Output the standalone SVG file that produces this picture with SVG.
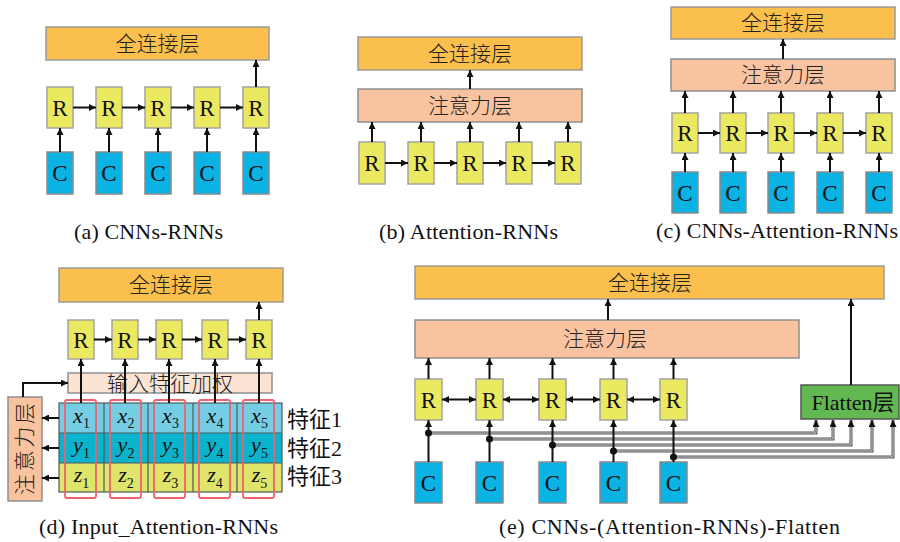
<svg xmlns="http://www.w3.org/2000/svg" width="900" height="542" viewBox="0 0 900 542">
<defs>
<marker id="ah" viewBox="0 0 10 10" refX="10" refY="5" markerWidth="7" markerHeight="7" markerUnits="userSpaceOnUse" orient="auto-start-reverse"><path d="M0,0 L10,5 L0,10 z" fill="#111"/></marker>
<style>
.fc{fill:#FBBF4E;stroke:#9b9b9b;stroke-width:1.5}
.att{fill:#F9C3A0;stroke:#8f8f8f;stroke-width:1.5}
.r{fill:#EAE95F;stroke:#a3a3a3;stroke-width:1.5}
.c{fill:#0BB2E4;stroke:#8a8a8a;stroke-width:1.5}
.w{fill:#FCE3D3;stroke:#8f8f8f;stroke-width:1.5}
.fl{fill:#63B951;stroke:#555;stroke-width:1.5}
.cn{font-family:"Noto Sans CJK SC","Noto Sans CJK TC",sans-serif;font-size:21px;fill:#222;text-anchor:middle;font-weight:300}
.lt{font-family:"Liberation Serif",serif;font-size:23px;text-anchor:middle;fill:#111}
.mx{font-family:"Liberation Serif","Noto Sans CJK SC",serif;font-size:22px;fill:#111}
.cap{font-family:"Liberation Serif",serif;font-size:22px;text-anchor:middle;fill:#111}
.ar{stroke:#111;stroke-width:2;fill:none;marker-end:url(#ah)}
.bi{stroke:#111;stroke-width:2;fill:none;marker-end:url(#ah);marker-start:url(#ah)}
.wo{stroke:#555;stroke-width:3;fill:none;marker-end:url(#ah)}
.wi{stroke:#eee;stroke-width:0.8;fill:none}
.row1{fill:#75CDE3}.row2{fill:#0BB3CC}.row3{fill:#DFE46B}
.red{fill:none;stroke:#F0606E;stroke-width:1.8}
.it{font-style:italic}
</style>
</defs>

<!-- ===== (a) CNNs-RNNs ===== -->
<g id="a-fc"><rect class="fc" x="46" y="27" width="223" height="33"/><text class="cn" x="157.5" y="51">全连接层</text></g>
<g id="a-r1"><rect class="r" x="47" y="87" width="26" height="41"/><text class="lt" x="60" y="115.5">R</text></g>
<g id="a-r2"><rect class="r" x="96" y="87" width="26" height="41"/><text class="lt" x="109" y="115.5">R</text></g>
<g id="a-r3"><rect class="r" x="145" y="87" width="26" height="41"/><text class="lt" x="158" y="115.5">R</text></g>
<g id="a-r4"><rect class="r" x="194" y="87" width="26" height="41"/><text class="lt" x="207" y="115.5">R</text></g>
<g id="a-r5"><rect class="r" x="243" y="87" width="26" height="41"/><text class="lt" x="256" y="115.5">R</text></g>
<g id="a-c1"><rect class="c" x="47" y="152" width="26" height="42"/><text class="lt" x="60" y="181">C</text></g>
<g id="a-c2"><rect class="c" x="96" y="152" width="26" height="42"/><text class="lt" x="109" y="181">C</text></g>
<g id="a-c3"><rect class="c" x="145" y="152" width="26" height="42"/><text class="lt" x="158" y="181">C</text></g>
<g id="a-c4"><rect class="c" x="194" y="152" width="26" height="42"/><text class="lt" x="207" y="181">C</text></g>
<g id="a-c5"><rect class="c" x="243" y="152" width="26" height="42"/><text class="lt" x="256" y="181">C</text></g>
<g id="a-edges">
<line class="ar" x1="73" y1="107.5" x2="96" y2="107.5"/>
<line class="ar" x1="122" y1="107.5" x2="145" y2="107.5"/>
<line class="ar" x1="171" y1="107.5" x2="194" y2="107.5"/>
<line class="ar" x1="220" y1="107.5" x2="243" y2="107.5"/>
<line class="ar" x1="60" y1="152" x2="60" y2="128"/>
<line class="ar" x1="109" y1="152" x2="109" y2="128"/>
<line class="ar" x1="158" y1="152" x2="158" y2="128"/>
<line class="ar" x1="207" y1="152" x2="207" y2="128"/>
<line class="ar" x1="256" y1="152" x2="256" y2="128"/>
<line class="ar" x1="256" y1="87" x2="256" y2="60"/>
</g>
<text class="cap" x="148.5" y="239" textLength="149" lengthAdjust="spacing">(a) CNNs-RNNs</text>

<!-- ===== (b) Attention-RNNs ===== -->
<g id="b-fc"><rect class="fc" x="358" y="37" width="224" height="33"/><text class="cn" x="470" y="61">全连接层</text></g>
<g id="b-att"><rect class="att" x="358" y="89" width="224" height="33"/><text class="cn" x="470" y="113">注意力层</text></g>
<g id="b-r1"><rect class="r" x="359" y="142" width="26" height="42"/><text class="lt" x="372" y="171">R</text></g>
<g id="b-r2"><rect class="r" x="408" y="142" width="26" height="42"/><text class="lt" x="421" y="171">R</text></g>
<g id="b-r3"><rect class="r" x="457" y="142" width="26" height="42"/><text class="lt" x="470" y="171">R</text></g>
<g id="b-r4"><rect class="r" x="506" y="142" width="26" height="42"/><text class="lt" x="519" y="171">R</text></g>
<g id="b-r5"><rect class="r" x="555" y="142" width="26" height="42"/><text class="lt" x="568" y="171">R</text></g>
<g id="b-edges">
<line class="ar" x1="385" y1="163" x2="408" y2="163"/>
<line class="ar" x1="434" y1="163" x2="457" y2="163"/>
<line class="ar" x1="483" y1="163" x2="506" y2="163"/>
<line class="ar" x1="532" y1="163" x2="555" y2="163"/>
<line class="ar" x1="372" y1="142" x2="372" y2="122"/>
<line class="ar" x1="421" y1="142" x2="421" y2="122"/>
<line class="ar" x1="470" y1="142" x2="470" y2="122"/>
<line class="ar" x1="519" y1="142" x2="519" y2="122"/>
<line class="ar" x1="568" y1="142" x2="568" y2="122"/>
<line class="ar" x1="470" y1="89" x2="470" y2="70"/>
</g>
<text class="cap" x="468.5" y="239" textLength="179" lengthAdjust="spacing">(b) Attention-RNNs</text>

<!-- ===== (c) CNNs-Attention-RNNs ===== -->
<g id="c-fc"><rect class="fc" x="671" y="7" width="224" height="32"/><text class="cn" x="783" y="30">全连接层</text></g>
<g id="c-att"><rect class="att" x="671" y="59" width="224" height="32"/><text class="cn" x="783" y="82">注意力层</text></g>
<g id="c-r1"><rect class="r" x="672" y="113" width="26" height="40"/><text class="lt" x="685" y="141">R</text></g>
<g id="c-r2"><rect class="r" x="720" y="113" width="26" height="40"/><text class="lt" x="733" y="141">R</text></g>
<g id="c-r3"><rect class="r" x="768" y="113" width="26" height="40"/><text class="lt" x="781" y="141">R</text></g>
<g id="c-r4"><rect class="r" x="817" y="113" width="26" height="40"/><text class="lt" x="830" y="141">R</text></g>
<g id="c-r5"><rect class="r" x="866" y="113" width="26" height="40"/><text class="lt" x="879" y="141">R</text></g>
<g id="c-c1"><rect class="c" x="672" y="172" width="26" height="41"/><text class="lt" x="685" y="200.5">C</text></g>
<g id="c-c2"><rect class="c" x="720" y="172" width="26" height="41"/><text class="lt" x="733" y="200.5">C</text></g>
<g id="c-c3"><rect class="c" x="768" y="172" width="26" height="41"/><text class="lt" x="781" y="200.5">C</text></g>
<g id="c-c4"><rect class="c" x="817" y="172" width="26" height="41"/><text class="lt" x="830" y="200.5">C</text></g>
<g id="c-c5"><rect class="c" x="866" y="172" width="26" height="41"/><text class="lt" x="879" y="200.5">C</text></g>
<g id="c-edges">
<line class="ar" x1="698" y1="133" x2="720" y2="133"/>
<line class="ar" x1="746" y1="133" x2="768" y2="133"/>
<line class="ar" x1="794" y1="133" x2="817" y2="133"/>
<line class="ar" x1="843" y1="133" x2="866" y2="133"/>
<line class="ar" x1="685" y1="113" x2="685" y2="91"/>
<line class="ar" x1="733" y1="113" x2="733" y2="91"/>
<line class="ar" x1="781" y1="113" x2="781" y2="91"/>
<line class="ar" x1="830" y1="113" x2="830" y2="91"/>
<line class="ar" x1="879" y1="113" x2="879" y2="91"/>
<line class="ar" x1="685" y1="172" x2="685" y2="153"/>
<line class="ar" x1="733" y1="172" x2="733" y2="153"/>
<line class="ar" x1="781" y1="172" x2="781" y2="153"/>
<line class="ar" x1="830" y1="172" x2="830" y2="153"/>
<line class="ar" x1="879" y1="172" x2="879" y2="153"/>
<line class="ar" x1="783" y1="59" x2="783" y2="39"/>
</g>
<text class="cap" x="777" y="238" textLength="242" lengthAdjust="spacing">(c) CNNs-Attention-RNNs</text>

<!-- ===== (d) Input_Attention-RNNs ===== -->
<g id="d-fc"><rect class="fc" x="59" y="268" width="224" height="34"/><text class="cn" x="171" y="292">全连接层</text></g>
<g id="d-r1"><rect class="r" x="68" y="320" width="26" height="39"/><text class="lt" x="81" y="347.5">R</text></g>
<g id="d-r2"><rect class="r" x="112" y="320" width="26" height="39"/><text class="lt" x="125" y="347.5">R</text></g>
<g id="d-r3"><rect class="r" x="156" y="320" width="26" height="39"/><text class="lt" x="169" y="347.5">R</text></g>
<g id="d-r4"><rect class="r" x="202" y="320" width="26" height="39"/><text class="lt" x="215" y="347.5">R</text></g>
<g id="d-r5"><rect class="r" x="246" y="320" width="26" height="39"/><text class="lt" x="259" y="347.5">R</text></g>
<g id="d-weight"><rect class="w" x="68" y="373" width="204" height="20"/><text class="cn" x="170" y="390.5">输入特征加权</text></g>
<g id="d-att"><rect class="att" x="8" y="397" width="34" height="104"/><text class="cn" transform="translate(32,449) rotate(-90)" textLength="92" lengthAdjust="spacing">注意力层</text></g>
<g id="d-grid">
<rect class="row1" x="59" y="403" width="223" height="30"/>
<rect class="row2" x="59" y="433" width="223" height="30"/>
<rect class="row3" x="59" y="463" width="223" height="29"/>
<g stroke="#4a5a5a" stroke-width="1.2" fill="none">
<rect x="59" y="403" width="223" height="89"/>
<line x1="59" y1="433" x2="282" y2="433"/>
<line x1="59" y1="463" x2="282" y2="463"/>
<line x1="104" y1="403" x2="104" y2="492"/>
<line x1="148" y1="403" x2="148" y2="492"/>
<line x1="193" y1="403" x2="193" y2="492"/>
<line x1="237" y1="403" x2="237" y2="492"/>
</g>
<g class="mx" text-anchor="middle">
<text x="81.5" y="423"><tspan class="it">x</tspan><tspan font-size="14" dy="5">1</tspan></text>
<text x="126" y="423"><tspan class="it">x</tspan><tspan font-size="14" dy="5">2</tspan></text>
<text x="170.5" y="423"><tspan class="it">x</tspan><tspan font-size="14" dy="5">3</tspan></text>
<text x="215" y="423"><tspan class="it">x</tspan><tspan font-size="14" dy="5">4</tspan></text>
<text x="259.5" y="423"><tspan class="it">x</tspan><tspan font-size="14" dy="5">5</tspan></text>
<text x="81.5" y="452"><tspan class="it">y</tspan><tspan font-size="14" dy="6">1</tspan></text>
<text x="126" y="452"><tspan class="it">y</tspan><tspan font-size="14" dy="6">2</tspan></text>
<text x="170.5" y="452"><tspan class="it">y</tspan><tspan font-size="14" dy="6">3</tspan></text>
<text x="215" y="452"><tspan class="it">y</tspan><tspan font-size="14" dy="6">4</tspan></text>
<text x="259.5" y="452"><tspan class="it">y</tspan><tspan font-size="14" dy="6">5</tspan></text>
<text x="81.5" y="482"><tspan class="it">z</tspan><tspan font-size="14" dy="6">1</tspan></text>
<text x="126" y="482"><tspan class="it">z</tspan><tspan font-size="14" dy="6">2</tspan></text>
<text x="170.5" y="482"><tspan class="it">z</tspan><tspan font-size="14" dy="6">3</tspan></text>
<text x="215" y="482"><tspan class="it">z</tspan><tspan font-size="14" dy="6">4</tspan></text>
<text x="259.5" y="482"><tspan class="it">z</tspan><tspan font-size="14" dy="6">5</tspan></text>
</g>
<rect class="red" x="65" y="400" width="31" height="98" rx="2"/>
<rect class="red" x="110" y="400" width="31" height="98" rx="2"/>
<rect class="red" x="154" y="400" width="31" height="98" rx="2"/>
<rect class="red" x="199" y="400" width="31" height="98" rx="2"/>
<rect class="red" x="243" y="400" width="31" height="98" rx="2"/>
</g>
<g id="d-labels" class="mx">
<text x="287" y="427">特征1</text>
<text x="287" y="456">特征2</text>
<text x="287" y="484">特征3</text>
</g>
<g id="d-edges">
<line class="ar" x1="94" y1="339.5" x2="112" y2="339.5"/>
<line class="ar" x1="138" y1="339.5" x2="156" y2="339.5"/>
<line class="ar" x1="182" y1="339.5" x2="202" y2="339.5"/>
<line class="ar" x1="228" y1="339.5" x2="246" y2="339.5"/>
<line class="ar" x1="259" y1="320" x2="259" y2="302"/>
<line class="ar" x1="81" y1="403" x2="81" y2="359"/>
<line class="ar" x1="125" y1="403" x2="125" y2="359"/>
<line class="ar" x1="169" y1="403" x2="169" y2="359"/>
<line class="ar" x1="215" y1="403" x2="215" y2="359"/>
<line class="ar" x1="259" y1="403" x2="259" y2="359"/>
<path class="ar" d="M23,397 V383 H68"/>
<line class="ar" x1="59" y1="418" x2="42" y2="418"/>
<line class="ar" x1="59" y1="448" x2="42" y2="448"/>
<line class="ar" x1="59" y1="478" x2="42" y2="478"/>
</g>
<text class="cap" x="158.5" y="534" textLength="239" lengthAdjust="spacing">(d) Input_Attention-RNNs</text>

<!-- ===== (e) CNNs-(Attention-RNNs)-Flatten ===== -->
<g id="e-fc"><rect class="fc" x="415" y="266" width="469" height="33"/><text class="cn" x="650" y="290">全连接层</text></g>
<g id="e-att"><rect class="att" x="415" y="320" width="384" height="38"/><text class="cn" x="605" y="346">注意力层</text></g>
<g id="e-flatten"><rect class="fl" x="801" y="385" width="98" height="34"/><text class="mx" x="853" y="410" text-anchor="middle" textLength="83" lengthAdjust="spacing">Flatten层</text></g>
<g id="e-r1"><rect class="r" x="415" y="379" width="27" height="41"/><text class="lt" x="428.5" y="407.5">R</text></g>
<g id="e-r2"><rect class="r" x="476" y="379" width="27" height="41"/><text class="lt" x="489.5" y="407.5">R</text></g>
<g id="e-r3"><rect class="r" x="539" y="379" width="27" height="41"/><text class="lt" x="552.5" y="407.5">R</text></g>
<g id="e-r4"><rect class="r" x="600" y="379" width="27" height="41"/><text class="lt" x="613.5" y="407.5">R</text></g>
<g id="e-r5"><rect class="r" x="660" y="379" width="27" height="41"/><text class="lt" x="673.5" y="407.5">R</text></g>
<g id="e-c1"><rect class="c" x="415" y="462" width="27" height="41"/><text class="lt" x="428.5" y="490.5">C</text></g>
<g id="e-c2"><rect class="c" x="476" y="462" width="27" height="41"/><text class="lt" x="489.5" y="490.5">C</text></g>
<g id="e-c3"><rect class="c" x="539" y="462" width="27" height="41"/><text class="lt" x="552.5" y="490.5">C</text></g>
<g id="e-c4"><rect class="c" x="600" y="462" width="27" height="41"/><text class="lt" x="613.5" y="490.5">C</text></g>
<g id="e-c5"><rect class="c" x="660" y="462" width="27" height="41"/><text class="lt" x="673.5" y="490.5">C</text></g>
<g id="e-edges">
<path class="wo" d="M428.5,433 H816 V420"/><path class="wi" d="M428.5,433 H816 V427"/>
<path class="wo" d="M489.5,439 H833 V420"/><path class="wi" d="M489.5,439 H833 V427"/>
<path class="wo" d="M552.5,445 H851 V420"/><path class="wi" d="M552.5,445 H851 V427"/>
<path class="wo" d="M613.5,451 H872 V420"/><path class="wi" d="M613.5,451 H872 V427"/>
<path class="wo" d="M673.5,457 H893 V420"/><path class="wi" d="M673.5,457 H893 V427"/>
<line class="ar" x1="428.5" y1="462" x2="428.5" y2="420"/>
<line class="ar" x1="489.5" y1="462" x2="489.5" y2="420"/>
<line class="ar" x1="552.5" y1="462" x2="552.5" y2="420"/>
<line class="ar" x1="613.5" y1="462" x2="613.5" y2="420"/>
<line class="ar" x1="673.5" y1="462" x2="673.5" y2="420"/>
<g fill="#111">
<circle cx="428.5" cy="433" r="3.5"/>
<circle cx="489.5" cy="439" r="3.5"/>
<circle cx="552.5" cy="445" r="3.5"/>
<circle cx="613.5" cy="451" r="3.5"/>
<circle cx="673.5" cy="457" r="3.5"/>
</g>
<line class="bi" x1="442" y1="399.5" x2="476" y2="399.5"/>
<line class="bi" x1="503" y1="399.5" x2="539" y2="399.5"/>
<line class="bi" x1="566" y1="399.5" x2="600" y2="399.5"/>
<line class="bi" x1="627" y1="399.5" x2="660" y2="399.5"/>
<line class="ar" x1="428.5" y1="379" x2="428.5" y2="358"/>
<line class="ar" x1="489.5" y1="379" x2="489.5" y2="358"/>
<line class="ar" x1="552.5" y1="379" x2="552.5" y2="358"/>
<line class="ar" x1="613.5" y1="379" x2="613.5" y2="358"/>
<line class="ar" x1="673.5" y1="379" x2="673.5" y2="358"/>
<line class="ar" x1="608" y1="320" x2="608" y2="299"/>
<line class="ar" x1="851" y1="385" x2="851" y2="299"/>
</g>
<text class="cap" x="669.5" y="534" textLength="341" lengthAdjust="spacing">(e) CNNs-(Attention-RNNs)-Flatten</text>
</svg>
